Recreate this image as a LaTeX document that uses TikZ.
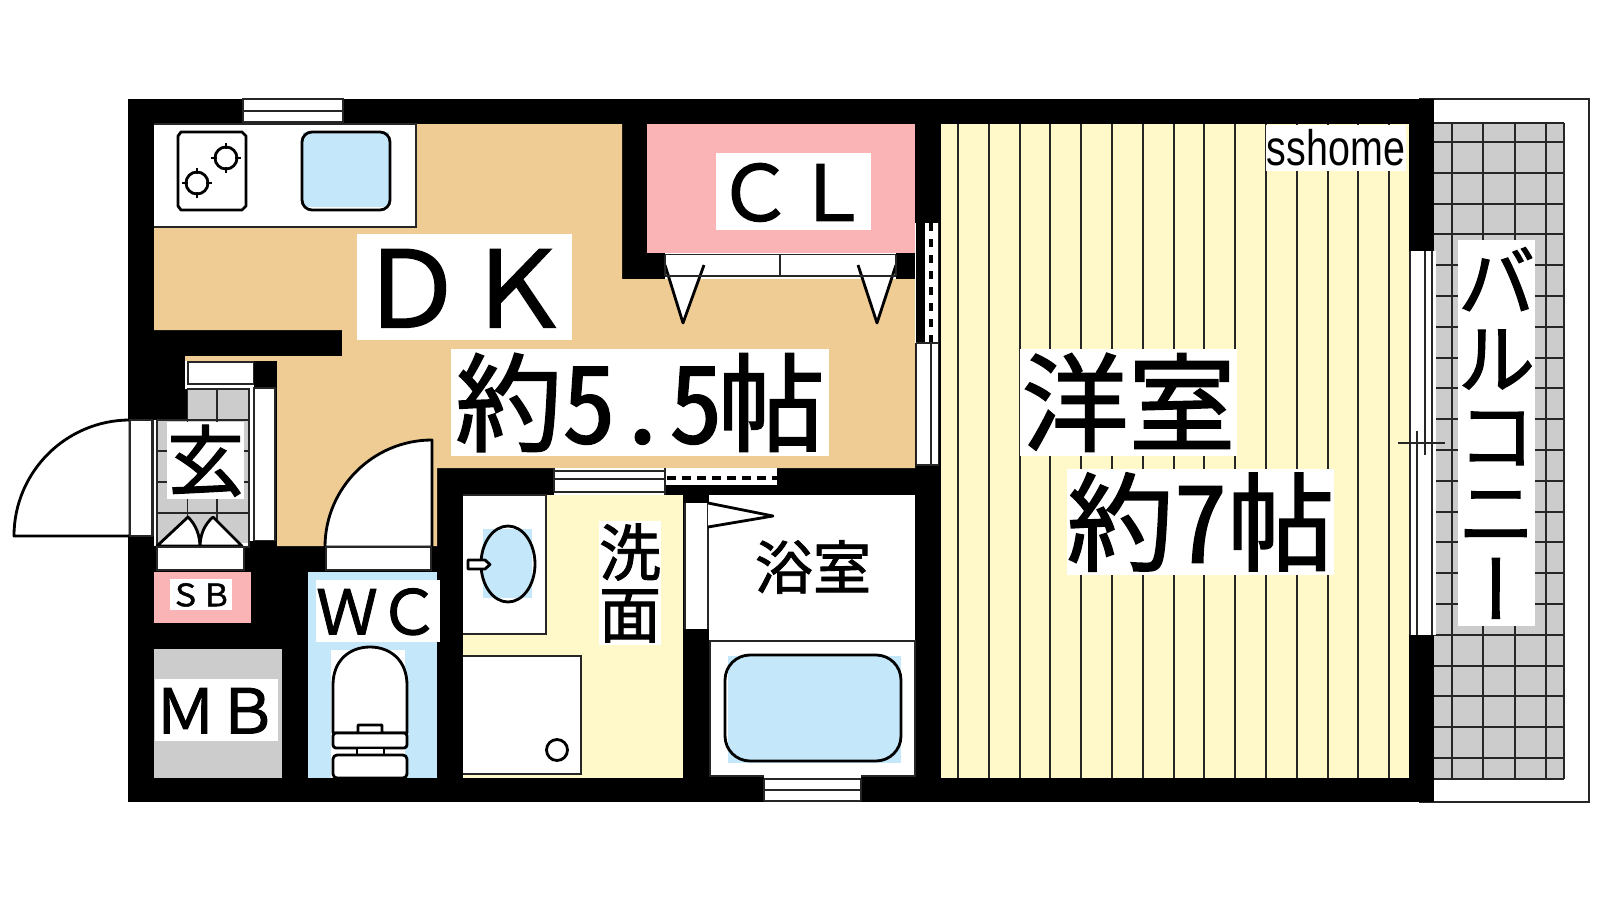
\documentclass[tikz,border=0pt]{standalone}
\usepackage{fontspec}
\newfontfamily\cjk[FakeBold=1.5]{Noto Sans CJK JP}
\newfontfamily\cjkhalf[RawFeature=+hwid,FakeBold=1.5]{Noto Sans CJK JP}
\newfontfamily\cjkvert[RawFeature=+vert,FakeBold=1.5]{Noto Sans CJK JP}
\setsansfont{Liberation Sans}
\definecolor{floordk}{HTML}{F0CC95}
\definecolor{floorcl}{HTML}{FBB4B6}
\definecolor{floorwet}{HTML}{C4E8FA}
\definecolor{floorbed}{HTML}{FFF8C8}
\definecolor{floortile}{HTML}{CCCCCC}
\tikzset{
	thinline/.style={draw=black!85,line width=0.55pt},
	fixture/.style={draw=black,line width=0.8pt,fill=white,line join=round},
	pane/.style={thinline,fill=white},
	stackbox/.style={fill=white,inner sep=0pt,font=\cjk\fontsize{#1}{#1}\selectfont,align=center},
	labelbox/.style={stackbox=#1,text height=0.88*#1pt,text depth=0.12*#1pt}
}
\begin{document}
\begin{tikzpicture}[x=0.01cm,y=-0.01cm]
		\useasboundingbox (0,0) rectangle (1600,900);
		% balcony
		\draw[thinline,fill=white] (1420,99) rectangle (1589,802);
		\fill[floortile] (1434,123) rectangle (1564,779);
		\foreach \gx in {1452,1483,1515,1546,1564}
			\draw[thinline] (\gx,123) -- (\gx,779);
		\foreach \gy in {0,...,20}
			\draw[thinline] (1434,142+30.8*\gy) -- (1564,142+30.8*\gy);
		\draw[thinline] (1434,123) -- (1564,123) (1434,779) -- (1564,779);
		% walls, the rooms are cut out of this
		\fill[black] (128,99) rectangle (1434,802);
		% floors
		\fill[floordk] (154,124) -- (622,124) -- (622,279) -- (915,279) -- (915,468) -- (437,468) -- (437,546)
			-- (277,546) -- (277,361) -- (185,361) -- (185,356) -- (342,356) -- (342,330) -- (154,330) -- cycle;
		\fill[floorcl] (647,124) rectangle (915,253);
		\fill[floorbed] (941,124) rectangle (1409,778);
		\fill[floorbed] (463,495) rectangle (683,778);
		\fill[white] (709,495) rectangle (915,776);
		\fill[floorwet] (308,572) rectangle (437,778);
		\fill[floorcl] (154,572) rectangle (251,623);
		\fill[floortile] (154,649) rectangle (282,778);
		% floor boards
		\foreach \bx in {0,...,14}
			\draw[thinline] (958+30.8*\bx,124) -- (958+30.8*\bx,778);
		% kitchen
		\draw[thinline,fill=white] (154,124) -- (416,124) -- (416,227) -- (154,227);
		\draw[pane] (243,99) rectangle (343,122);
		\draw[thinline] (243,111) -- (343,111);
		\draw[fixture] (181,132) -- (242,132) -- (246,136) -- (246,206) -- (242,210) -- (181,210) -- (178,206) -- (178,136) -- cycle;
		\foreach \bx/\by in {226/158,197/183}{
			\draw[draw=black,line width=0.8pt] (\bx-15,\by) -- (\bx+15,\by) (\bx,\by-15) -- (\bx,\by+15);
			\fill[white] (\bx-9,\by-9) rectangle (\bx+9,\by+9);
			\draw[draw=black,line width=0.8pt] (\bx,\by) circle (11);
		}
		\fill[floorwet] (303,132) rectangle (389,207);
		\draw[draw=black,line width=0.8pt,rounded corners=0.1cm] (302,132) rectangle (390,210);
		% closet doors
		\fill[white] (665,253) rectangle (896,279);
		\draw[fixture] (665,265) -- (683,323) -- (704,265);
		\draw[fixture] (858,265) -- (877,323) -- (896,265);
		\draw[thinline] (665,254.5) -- (896,254.5) (665,276) -- (896,276) (780,254.5) -- (780,276) (665,254.5) -- (665,276) (896,254.5) -- (896,276);
		% entrance
		\fill[white] (185,361) rectangle (254,389);
		\fill[white] (153,420) rectangle (254,546);
		\fill[white] (187,389) rectangle (254,420);
		\draw[pane] (188,362) rectangle (254,384);
		\fill[black] (254,361) rectangle (277,388);
		\fill[floortile] (187,389) rectangle (249,421);
		\fill[floortile] (157,421) rectangle (249,543);
		\foreach \gx in {187.5,217}
			\draw[thinline] (\gx,389) -- (\gx,543);
		\foreach \gy in {420,451,482,513}
			\draw[thinline] (157,\gy) -- (249,\gy);
		\draw[thinline] (187,389) -- (249,389) -- (249,546) (157,420) -- (157,546) (153,420) -- (153,536);
		\draw[pane] (254,388) rectangle (275,541);
		\fill[black] (250,541) rectangle (277,547);
		\fill[black] (128,536) rectangle (154,572);
		\draw[fixture] (130,536) -- (14,536) .. controls (14,472) and (66,420) .. (130,420) -- cycle;
		\draw[pane] (130,420) rectangle (152,536);
		\draw[fixture] (157,546) -- (188,517) .. controls (196,525) and (200,535) .. (200,548)
			.. controls (200,535) and (204,525) .. (213,517) -- (242,546) -- cycle;
		\draw[thinline] (157,547) -- (250,547);
		\draw[pane] (157,547) rectangle (244,570);
		% toilet door
		\draw[fixture] (432,547) -- (325,547) .. controls (325,488) and (373,440) .. (432,440) -- cycle;
		\draw[pane] (326,547) rectangle (431,570);
		% toilet
		\fill[white] (331,650) rectangle (405,778);
		\draw[fixture,fill=white] (333,733) -- (333,685) .. controls (333,660) and (350,647) .. (370,647)
			.. controls (390,647) and (407,660) .. (407,685) -- (407,733) -- (382,733) -- (382,725) -- (358,725) -- (358,733) -- cycle;
		\draw[fixture,rounded corners=0.03cm] (333,733) rectangle (407,748);
		\draw[fixture] (357,748) rectangle (384,755);
		\draw[fixture,rounded corners=0.04cm] (333,755) rectangle (407,778);
		% washroom
		\draw[thinline,fill=white] (463,495) -- (546,495) -- (546,634) -- (463,634);
		\fill[floorwet] (483,529) rectangle (532,598);
		\draw[draw=black,line width=0.8pt] (508,564) ellipse (27 and 38);
		\draw[fixture] (468,560) -- (485,560) -- (490,564.5) -- (485,569) -- (468,569) -- cycle;
		\draw[thinline,fill=white] (463,656) -- (581,656) -- (581,774) -- (463,774);
		\draw[draw=black,line width=0.8pt,fill=white] (557,750) circle (10.5);
		% top window of the wet rooms
		\fill[white] (554,468) rectangle (777,485);
		\fill[white] (554,485) rectangle (665,495);
		\draw[thinline] (554,471) -- (665,471) (554,479) -- (665,479) (554,492) -- (665,492) (554,468) -- (554,492) (665,468) -- (665,495);
		\draw[draw=black,line width=1pt,dash pattern=on 0.09cm off 0.06cm] (667,478) -- (777,478);
		% bath door
		\fill[white] (685,503) rectangle (708,629);
		\draw[thinline] (685,503) -- (685,629) (708,503) -- (708,629);
		\draw[fixture] (708,503) -- (773,516) -- (708,527);
		% bath
		\draw[thinline] (710,641) rectangle (915,776);
		\fill[floorwet] (728,656) rectangle (901,763);
		\draw[draw=black,line width=0.8pt,rounded corners=0.25cm] (725,655) rectangle (901,761);
		\fill[white] (764,775) rectangle (861,802);
		\draw[thinline] (764,779) -- (861,779) (764,790) -- (861,790) (764,801) -- (861,801) (764,779) -- (764,801) (861,779) -- (861,801);
		% window between room and kitchen
		\fill[white] (925,223) rectangle (938,343);
		\draw[thinline,draw=white] (915.5,223) -- (915.5,343);
		\draw[thinline] (938.5,223) -- (938.5,343);
		\draw[draw=black,line width=1pt,dash pattern=on 0.08cm off 0.08cm] (931,223) -- (931,343);
		\draw[pane] (916.5,343) rectangle (938.5,465);
		\draw[thinline] (931,343) -- (931,465);
		% balcony window
		\fill[white] (1410,251) rectangle (1436,635);
		\draw[thinline] (1410,251) -- (1410,635) (1432,251) -- (1432,635)
			(1425,251) -- (1425,455) (1417,431) -- (1417,635) (1398,443) -- (1445,443);
		% labels
		\node[labelbox=30.2,minimum width=2.15cm,minimum height=1.06cm] (dk) at (464.5,287) {ＤＫ};
		\node[labelbox=30.4,minimum width=3.78cm,minimum height=1.07cm] (dkarea) at (640,402.5) {約{\cjkhalf 5.5}\kern-0.05cm 帖};
		\node[labelbox=30.4,minimum width=2.17cm,minimum height=1.07cm] (bed) at (1128.5,402.5) {洋室};
		\node[labelbox=30.4,minimum width=2.67cm,minimum height=1.06cm] (bedarea) at (1200.5,522) {約{\cjkhalf 7}帖};
		\node[labelbox=21.9,minimum width=1.55cm,minimum height=0.77cm] (cl) at (793.5,191.5) {ＣＬ};
		\node[labelbox=21.9,minimum width=0.77cm,minimum height=0.77cm] (genkan) at (205.5,460.5) {玄};
		\node[labelbox=17.6,minimum width=1.24cm,minimum height=0.62cm] (wc) at (378,611) {ＷＣ};
		\node[labelbox=17.6,minimum width=1.23cm,minimum height=0.62cm] (mb) at (216.5,710) {ＭＢ};
		\node[labelbox=8.8,minimum width=0.62cm,minimum height=0.31cm] (sb) at (201,594.5) {ＳＢ};
		\node[stackbox=17.6,minimum width=0.62cm,minimum height=1.24cm] (wash) at (630,583) {洗\\面};
		\node[labelbox=16.5] (bath) at (813,567) {浴室};
		\node[stackbox=21.9,minimum width=0.77cm,minimum height=3.86cm,text width=0.77cm] (balcony) at (1496.5,433)
			{バ\\ル\\コ\\ニ\\{\cjkvert ー}};
		\node[fill=white,inner sep=0pt,minimum width=1.39cm,minimum height=0.46cm] (mark) at (1336,148)
			{\sffamily\fontsize{14.2}{14.2}\selectfont\scalebox{0.79}[1]{sshome}};
\end{tikzpicture}
\end{document}
